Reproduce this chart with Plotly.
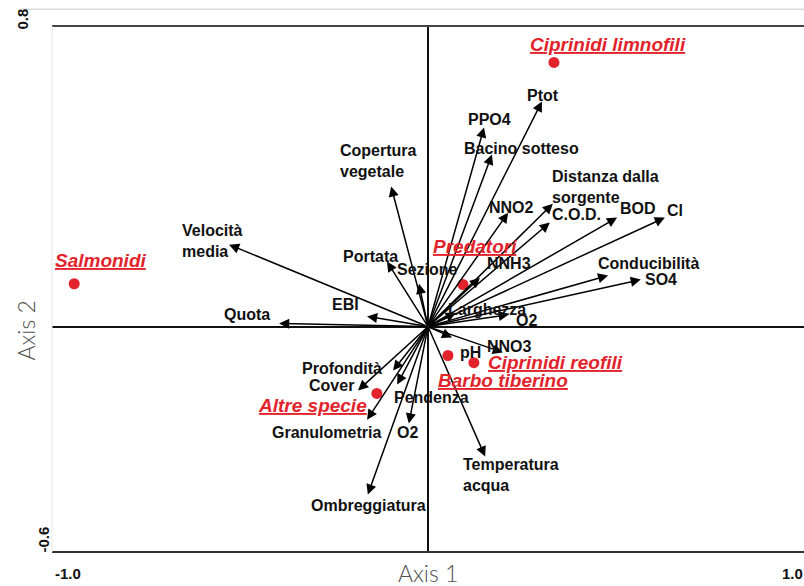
import plotly.graph_objects as go

# ---------------- data ----------------
variables = ["Ptot", "PPO4", "Bacino sotteso", "Copertura<br>vegetale",
             "Distanza dalla<br>sorgente", "NNO2", "C.O.D.", "BOD", "Cl",
             "Velocità<br>media", "Portata", "NNH3", "Sezione", "Conducibilità",
             "SO4", "EBI", "Quota", "Larghezza", "O2", "pH", "NNO3",
             "Profondità", "Cover", "Pendenza", "Granulometria", "O2",
             "Temperatura<br>acqua", "Ombreggiatura"]
var_axis1 = [0.303, 0.149, 0.170, -0.098, 0.332, 0.213, 0.324, 0.503, 0.630,
             -0.529, -0.109, 0.138, -0.024, 0.479, 0.566, -0.162, -0.396, 0.074,
             0.215, 0.064, 0.199, -0.093, -0.186, -0.082, -0.162, -0.051,
             0.152, -0.160]
var_axis2 = [0.599, 0.530, 0.458, 0.373, 0.327, 0.303, 0.277, 0.290, 0.290,
             0.218, 0.173, 0.130, 0.114, 0.136, 0.125, 0.027, 0.008, 0.037,
             0.032, -0.029, -0.069, -0.117, -0.170, -0.154, -0.248, -0.258,
             -0.346, -0.447]

species = ["Ciprinidi limnofili", "Predatori", "Salmonidi", "Ciprinidi reofili",
           "Barbo tiberino", "Altre specie"]
sp_axis1 = [0.335, 0.093, -0.941, 0.122, 0.053, -0.136]
sp_axis2 = [0.703, 0.112, 0.114, -0.096, -0.077, -0.178]

x_tick_vals = [-1.0, 1.0]
x_tick_labels = ["-1.0", "1.0"]
y_tick_vals = [0.8, -0.6]
y_tick_labels = ["0.8", "-0.6"]

# ---------------- label placement (pixel offsets from arrow tip) ----------------
var_label_style = [
    (1, 6, "center"), (5, 8, "center"), (30, 6, "center"), (-53, 25, "left"),
    (-3, 17, "left"), (3, 5, "center"), (27, 8, "center"), (21, 9, "center"),
    (10, 7, "center"), (-49, 4, "left"), (-17, 5, "center"), (29, 14, "center"),
    (9, 14, "center"), (40, 12, "center"), (20, 0, "center"), (-22, 12, "center"),
    (-32, 9, "center"), (31, 3, "center"), (18, -6, "center"), (18, -15, "center"),
    (7, 6, "center"), (-51, 2, "center"), (-27, 5, "center"), (34, -13, "center"),
    (-41, -13, "center"), (-1, -9, "center"), (-24, -18, "left"), (1, -11, "center"),
]
sp_label_offsets = [(54, 18), (12, 38), (27, 23), (82, 0), (55, -25), (-64, -12)]

RED = "#e3232b"
LABEL_FONT = dict(family="Liberation Sans, Arial, sans-serif", size=16, color="#111")

fig = go.Figure()

# species points
fig.add_trace(go.Scatter(
    x=sp_axis1, y=sp_axis2, mode="markers",
    marker=dict(size=11, color=RED), hoverinfo="text", text=species,
    showlegend=False))

# arrows
for name, vx, vy in zip(variables, var_axis1, var_axis2):
    fig.add_annotation(x=vx, y=vy, ax=0, ay=0, xref="x", yref="y",
                       axref="x", ayref="y", text="", showarrow=True,
                       arrowhead=2, arrowsize=1.35, arrowwidth=1.5,
                       arrowcolor="#000")

# variable labels
for name, vx, vy, (dx, dy, anc) in zip(variables, var_axis1, var_axis2, var_label_style):
    fig.add_annotation(x=vx, y=vy, xref="x", yref="y", text="<b>%s</b>" % name,
                       showarrow=False, xshift=dx, yshift=dy, xanchor=anc,
                       yanchor="middle", align="left", font=LABEL_FONT)

# species labels
for name, sx, sy, (dx, dy) in zip(species, sp_axis1, sp_axis2, sp_label_offsets):
    fig.add_annotation(x=sx, y=sy, xref="x", yref="y",
                       text="<b><i><u>%s</u></i></b>" % name,
                       showarrow=False, xshift=dx, yshift=dy, xanchor="center",
                       yanchor="middle",
                       font=dict(family="Liberation Sans, Arial, sans-serif",
                                 size=19, color=RED))

# tick labels
TICK_FONT = dict(family="Liberation Sans, Arial, sans-serif", size=15, color="#111")
for v, t, sh in zip(x_tick_vals, x_tick_labels, [16, -12]):
    fig.add_annotation(x=v, y=0, xref="x", yref="paper", yshift=-32,
                       text="<b>%s</b>" % t, showarrow=False, xshift=sh,
                       font=TICK_FONT)
for v, t, sh, xs in zip(y_tick_vals, y_tick_labels, [7, 12], [-41, -20]):
    fig.add_annotation(x=0, y=v, xref="paper", yref="y", yshift=sh, xshift=xs,
                       text="<b>%s</b>" % t, showarrow=False, textangle=-90,
                       font=TICK_FONT)

# axis titles
TITLE_FONT = dict(family="Lato, sans-serif", size=23, color="#505050", weight=300)
fig.add_annotation(x=0, y=0, xref="x", yref="paper", yshift=-37, text="Axis 1",
                   showarrow=False, font=TITLE_FONT)
fig.add_annotation(x=0, y=0, xref="paper", yref="y", xshift=-42, yshift=-4,
                   text="Axis 2", showarrow=False, textangle=-90, font=TITLE_FONT)

# frame
fig.add_shape(type="line", xref="paper", yref="paper", x0=0, x1=1, y0=1, y1=1,
              line=dict(color="#444", width=2))
fig.add_shape(type="line", xref="paper", yref="paper", x0=0, x1=1, y0=0, y1=0,
              line=dict(color="#333", width=2))
fig.add_shape(type="line", xref="paper", yref="paper", x0=0, x1=0, y0=0, y1=1,
              line=dict(color="#e6e6e6", width=1))
fig.add_shape(type="line", xref="paper", yref="paper", x0=-0.04, x1=1,
              y0=1.032, y1=1.032, line=dict(color="#c8c8c8", width=1))

fig.update_xaxes(range=[-1, 1], showgrid=False, showticklabels=False, ticks="",
                 zeroline=True, zerolinecolor="#111", zerolinewidth=2,
                 showline=False, fixedrange=True)
fig.update_yaxes(range=[-0.6, 0.8], showgrid=False, showticklabels=False, ticks="",
                 zeroline=True, zerolinecolor="#111", zerolinewidth=2,
                 showline=False, fixedrange=True)

fig.update_layout(width=804, height=586, margin=dict(l=52, r=0, t=26, b=34),
                  paper_bgcolor="white", plot_bgcolor="white", showlegend=False)

fig.write_html("out.html", config={"displayModeBar": False})
